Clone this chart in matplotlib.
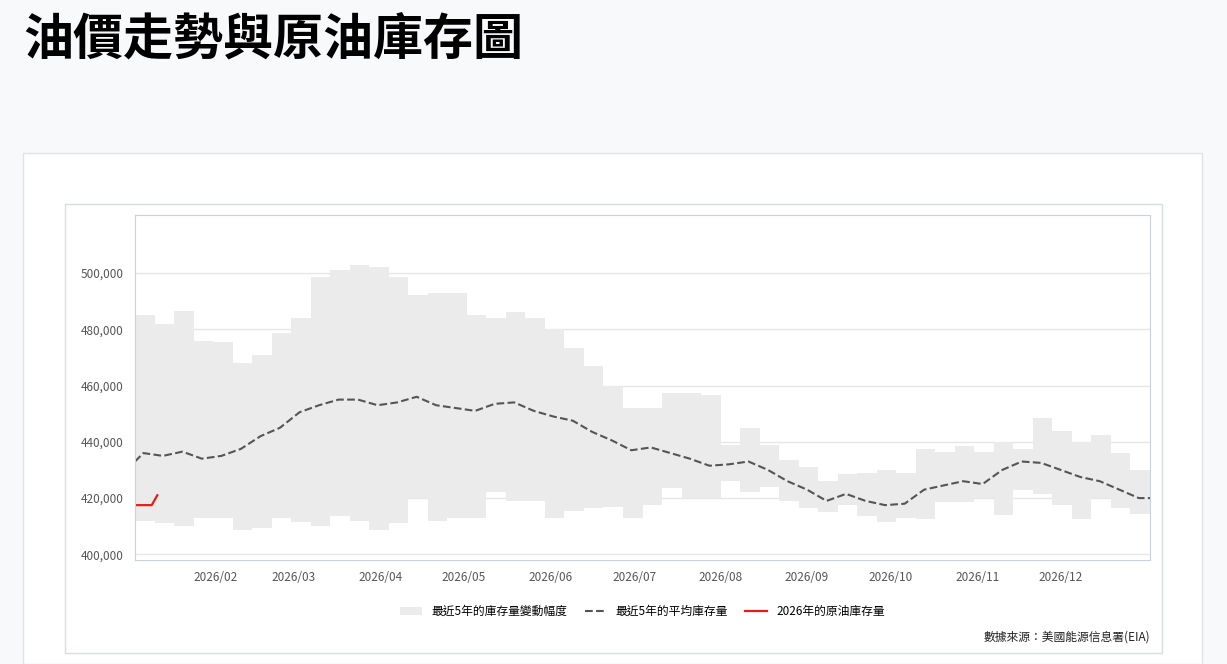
import matplotlib
matplotlib.use("Agg")
import matplotlib.pyplot as plt
import matplotlib.dates as mdates
import numpy as np
import datetime as dt
from matplotlib.patches import Rectangle

plt.rcParams['font.family'] = ['Noto Sans CJK TC', 'DejaVu Sans']

upper = [485,482,486.5,476,475.5,468,471,478.5,484,498.5,501,503,502,498.5,492,493,493,485,484,486,484,480,473.5,467,
         460,452,452,457.5,457.5,456.5,439,445,439,433.5,431,426,428.5,429,430,429,437.5,436.5,438.5,436.5,440,437.5,
         448.5,444,440,442.5,436,430]
lower = [412,411,410,413,413,408.5,409.5,413,411.5,410,413.5,412,408.5,411,420,412,413,413,422,419,419,413,415.5,416.5,
         417,413,417.5,423.5,420,420,426,422,424,419,416.5,415,417.5,413.5,411.5,413,412.5,418.5,418.5,420,414,423,
         421.5,417.5,412.5,420,416.5,414.5]
avg = [436,435,436.5,434,435,437.5,442,445,450.5,453,455,455,453,454,456,453,452,451,453.5,454,451,449,447.5,443.5,
       440.5,437,438,436,434,431.5,432,433,430,426,423,419,421.5,419,417.5,418,423,424.5,426,425,430,433,432.5,430,
       427.5,426,423,420]
cur_dates = ["2026-01-03", "2026-01-09", "2026-01-11"]
cur_vals = [417.5, 417.5, 421]

start = dt.date(2026, 1, 3)
edges = [start + dt.timedelta(days=7 * i) for i in range(len(upper) + 1)]
up = np.array(upper + [upper[-1]]) * 1000
lo = np.array(lower + [lower[-1]]) * 1000
mid = [start + dt.timedelta(days=7 * i + 3) for i in range(len(avg))]
avgv = np.array(avg) * 1000

fig = plt.figure(figsize=(12.27, 6.64), dpi=100)
fig.patch.set_facecolor('#f8f9fb')
fig.add_artist(Rectangle((23/1227, 0), 1179/1227, 1-153/664, transform=fig.transFigure,
                         facecolor='white', edgecolor='#dde3e8', lw=1, zorder=-2))
fig.add_artist(Rectangle((65/1227, 11/664), 1097/1227, (653-204)/664, transform=fig.transFigure,
                         facecolor='white', edgecolor='#d5e0e0', lw=1, zorder=-1))
fig.text(23/1227, 1-40/664, '油價走勢與原油庫存圖', fontsize=36, fontweight='bold', va='center', ha='left')

ax = fig.add_axes([135/1227, 1-560/664, 1015/1227, 345/664])
ax.fill_between(edges, lo, up, step='post', color='#ebebeb', lw=0, label='最近5年的庫存量變動幅度')
ax.plot([start] + mid + [edges[-1]], np.r_[433000, avgv, avgv[-1]], color='#555555', ls='--', lw=1.5,
        label='最近5年的平均庫存量')
ax.plot([dt.date.fromisoformat(d) for d in cur_dates], np.array(cur_vals) * 1000, color='#e0201b', lw=1.6,
        label='2026年的原油庫存量')
ax.set_xlim(dt.date(2026, 1, 3), dt.date(2027, 1, 2))
ax.set_ylim(398000, 520600)
ax.set_yticks(range(400000, 500001, 20000))
ax.yaxis.set_major_formatter(matplotlib.ticker.FuncFormatter(lambda v, p: f'{int(v):,}'))
ax.set_xticks([dt.date(2026, m, 1) for m in range(2, 13)])
ax.xaxis.set_major_formatter(mdates.DateFormatter('%Y/%m'))
ax.grid(axis='y', color='#e6e6e6', lw=1)
ax.set_axisbelow(True)
for s in ax.spines.values():
    s.set_color('#c8d2dc')
ax.tick_params(length=0, labelsize=8.5, colors='#555555', pad=8)
leg = ax.legend(loc='upper center', bbox_to_anchor=(0.5, -0.1), ncol=3, frameon=False, fontsize=8.5,
                handlelength=1.8, columnspacing=1.5)
fig.text(1150/1227, 1-637/664, '數據來源：美國能源信息署(EIA)', fontsize=8.5, ha='right', va='center', color='#222222')
fig.savefig('out.png', dpi=100, facecolor=fig.get_facecolor())
